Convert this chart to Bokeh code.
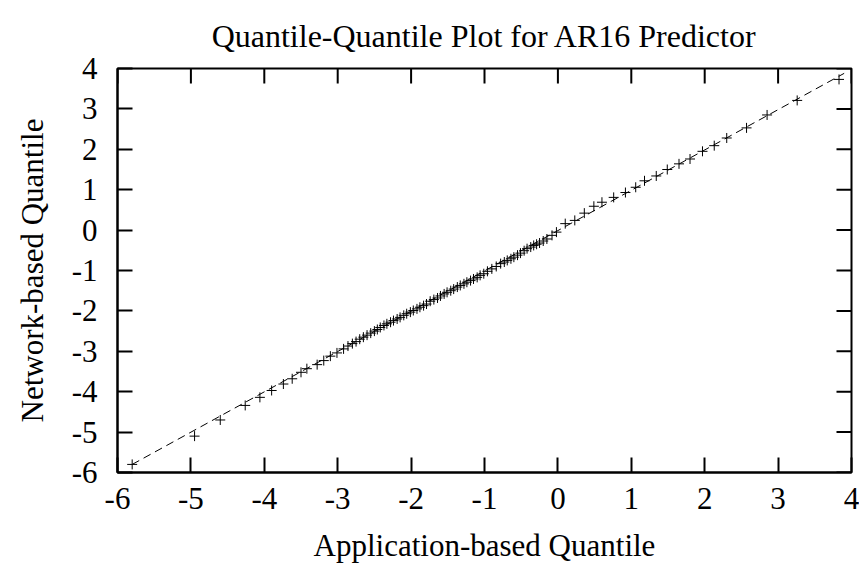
import math
from bokeh.plotting import figure
from bokeh.models import FixedTicker, Range1d
from bokeh.embed import file_html
from bokeh.resources import INLINE

# Application-based quantiles (x) and network-based quantiles (y)
app_q = [-5.80, -4.95, -4.60, -4.26, -4.06, -3.90, -3.74, -3.62, -3.50, -3.42,
         -3.28, -3.19, -3.10, -3.01, -2.92,
         -2.86, -2.80, -2.75, -2.70, -2.65, -2.60, -2.55, -2.50, -2.46, -2.42,
         -2.37, -2.33, -2.28, -2.24, -2.19, -2.15, -2.10, -2.06, -2.01, -1.97,
         -1.92, -1.88, -1.83, -1.79, -1.74, -1.69, -1.64, -1.60, -1.55, -1.51,
         -1.46, -1.42, -1.37, -1.33, -1.28, -1.24, -1.19, -1.15, -1.10, -1.06,
         -1.01,
         -0.96, -0.90, -0.84, -0.78, -0.73, -0.69, -0.64, -0.60, -0.55, -0.51,
         -0.46, -0.42, -0.37, -0.33, -0.29, -0.25, -0.20, -0.15, -0.08, -0.02,
         0.10, 0.23, 0.36, 0.49, 0.60, 0.76, 0.92, 1.06, 1.18, 1.34,
         1.49, 1.65, 1.80, 1.97, 2.13, 2.30, 2.57, 2.85, 3.26, 3.83]
net_q = [-5.80, -5.10, -4.70, -4.34, -4.14, -3.97, -3.81, -3.68, -3.52, -3.43,
         -3.33, -3.23, -3.12, -3.04, -2.94,
         -2.87, -2.81, -2.76, -2.70, -2.65, -2.60, -2.55, -2.50, -2.46, -2.41,
         -2.36, -2.32, -2.28, -2.24, -2.20, -2.16, -2.11, -2.07, -2.03, -1.99,
         -1.95, -1.91, -1.87, -1.83, -1.76, -1.72, -1.68, -1.63, -1.58, -1.54,
         -1.50, -1.46, -1.41, -1.37, -1.33, -1.29, -1.25, -1.21, -1.17, -1.12,
         -1.08,
         -1.02, -0.96, -0.90, -0.83, -0.79, -0.75, -0.71, -0.67, -0.62, -0.57,
         -0.51, -0.46, -0.42, -0.38, -0.35, -0.32, -0.27, -0.22, -0.13, -0.05,
         0.16, 0.24, 0.42, 0.59, 0.69, 0.81, 0.93, 1.06, 1.22, 1.34,
         1.50, 1.64, 1.76, 1.95, 2.09, 2.28, 2.53, 2.85, 3.21, 3.73]

# reference line endpoints
ref_x = [-5.80, 3.90]
ref_y = [-5.80, 3.88]

ticks = [-6, -5, -4, -3, -2, -1, 0, 1, 2, 3, 4]
tick_labels = ["-6", "-5", "-4", "-3", "-2", "-1", "0", "1", "2", "3", "4"]
x_min, x_max = -6, 4
y_min, y_max = -6, 4

FONT = "Liberation Serif"
FS = "31px"

p = figure(width=859, height=569,
           x_range=Range1d(x_min, x_max), y_range=Range1d(y_min, y_max),
           output_backend="svg", toolbar_location=None,
           min_border_left=117, min_border_right=8,
           min_border_top=68, min_border_bottom=97,
           title="Quantile-Quantile Plot for AR16 Predictor",
           x_axis_label="Application-based Quantile",
           y_axis_label="Network-based Quantile")

p.title.text_font = FONT
p.title.text_font_size = "32px"
p.title.text_font_style = "normal"
p.title.text_color = "black"
p.title.align = "center"
p.title.standoff = 30

p.grid.visible = False
p.background_fill_color = "white"
p.border_fill_color = "white"
p.outline_line_color = "black"
p.outline_line_width = 2
p.outline_line_alpha = 1

overrides = {t: s for t, s in zip(ticks, tick_labels)}

for ax in p.axis:
    ax.ticker = FixedTicker(ticks=ticks)
    ax.major_label_overrides = overrides
    ax.major_tick_in = 15
    ax.major_tick_out = 0
    ax.minor_tick_line_color = None
    ax.major_tick_line_color = "black"
    ax.major_tick_line_width = 2
    ax.axis_line_color = "black"
    ax.axis_line_width = 2
    ax.major_label_text_font = FONT
    ax.major_label_text_font_size = FS
    ax.major_label_text_color = "black"
    ax.axis_label_text_font = FONT
    ax.axis_label_text_font_size = FS
    ax.axis_label_text_font_style = "normal"
    ax.axis_label_text_color = "black"

p.xaxis[0].major_label_standoff = 15
p.yaxis[0].major_label_standoff = 20
p.xaxis[0].axis_label_standoff = 16
p.yaxis[0].axis_label_standoff = 19

# mirrored inward ticks on top and right edges
p.ray(x=ticks, y=[y_max] * len(ticks), length=15, length_units="screen",
      angle=-math.pi / 2, line_color="black", line_width=2)
p.ray(x=[x_max] * len(ticks), y=ticks, length=15, length_units="screen",
      angle=math.pi, line_color="black", line_width=2)

p.line(ref_x, ref_y, line_color="black", line_width=1, line_dash="8 5")
p.scatter(app_q, net_q, marker="cross", size=10, line_color="black", line_width=1)

open("out.html", "w").write(file_html(p, INLINE))
